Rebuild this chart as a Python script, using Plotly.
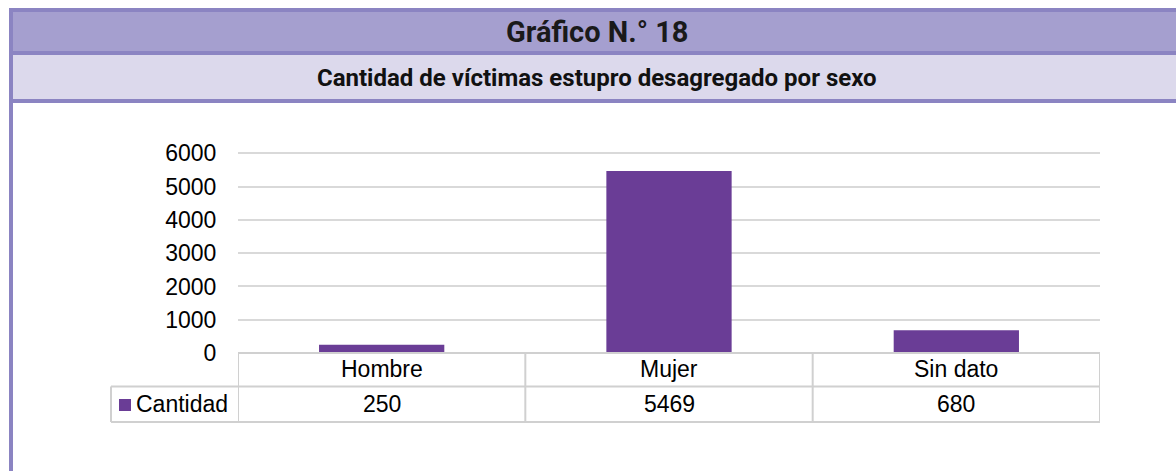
import plotly.graph_objects as go

W, H = 1176, 471

categories = ["Hombre", "Mujer", "Sin dato"]
cantidad = [250, 5469, 680]
series_name = "Cantidad"
y_ticks = [0, 1000, 2000, 3000, 4000, 5000, 6000]
title_text = "Gráfico N.° 18"
subtitle_text = "Cantidad de víctimas estupro desagregado por sexo"

BAR = "#6A3D96"
BORDER = "#8B84C2"
BAND1 = "#A59FCF"
BAND2 = "#DCD9EC"
GRID = "#D9D9D9"
CELL = "#D0D0D0"
FONT = "Liberation Sans, Arial, sans-serif"
FS = 23


def px(x):
    return x / W


def py(y):
    return 1 - y / H


fig = go.Figure()
fig.add_trace(go.Bar(x=categories, y=cantidad, marker=dict(color=BAR, line=dict(width=0)),
                     name=series_name, showlegend=False, hoverinfo="x+y"))

shapes = []
# header bands
shapes.append(dict(type="rect", xref="paper", yref="paper", x0=px(9), x1=px(1176), y0=py(8), y1=py(103),
                   fillcolor=BORDER, line=dict(width=0), layer="below"))
shapes.append(dict(type="rect", xref="paper", yref="paper", x0=px(13), x1=px(1176), y0=py(12), y1=py(51),
                   fillcolor=BAND1, line=dict(width=0), layer="below"))
shapes.append(dict(type="rect", xref="paper", yref="paper", x0=px(13), x1=px(1176), y0=py(55), y1=py(99),
                   fillcolor=BAND2, line=dict(width=0), layer="below"))
# left border down
shapes.append(dict(type="rect", xref="paper", yref="paper", x0=px(9), x1=px(13), y0=py(103), y1=0,
                   fillcolor=BORDER, line=dict(width=0), layer="below"))

# table lines
y_top, y_mid, y_bot = py(353), py(386.5), py(422)
n = len(categories)
shapes.append(dict(type="line", xref="x", yref="paper", x0=-0.5, x1=n - 0.5, y0=y_top, y1=y_top,
                   line=dict(color=CELL, width=2)))
for yy in (y_mid, y_bot):
    shapes.append(dict(type="line", xref="paper", yref="paper", x0=px(111), x1=px(1100), y0=yy, y1=yy,
                       line=dict(color=CELL, width=2)))
for i in range(n + 1):
    shapes.append(dict(type="line", xref="x", yref="paper", x0=i - 0.5, x1=i - 0.5, y0=y_top, y1=y_bot,
                       line=dict(color=CELL, width=2)))
shapes.append(dict(type="line", xref="paper", yref="paper", x0=px(111), x1=px(111), y0=y_mid, y1=y_bot,
                   line=dict(color=CELL, width=2)))
# legend key
shapes.append(dict(type="rect", xref="paper", yref="paper", x0=px(119), x1=px(131), y0=py(399), y1=py(411),
                   fillcolor=BAR, line=dict(width=0)))

annotations = []
annotations.append(dict(text=title_text, xref="paper", yref="paper", x=px(596.5), y=py(32), showarrow=False,
                        font=dict(family="Roboto", size=29, color="#1a1a1a", weight=700),
                        xanchor="center", yanchor="middle"))
annotations.append(dict(text=subtitle_text, xref="paper", yref="paper", x=px(596.5), y=py(78), showarrow=False,
                        font=dict(family="Roboto", size=24, color="#111111", weight=700),
                        xanchor="center", yanchor="middle"))
for c, v in zip(categories, cantidad):
    annotations.append(dict(text=c, xref="x", yref="paper", x=c, y=py(369), showarrow=False,
                            font=dict(family=FONT, size=FS, color="#000"), xanchor="center", yanchor="middle"))
    annotations.append(dict(text=str(v), xref="x", yref="paper", x=c, y=py(404), showarrow=False,
                            font=dict(family=FONT, size=FS, color="#000"), xanchor="center", yanchor="middle"))
annotations.append(dict(text=series_name, xref="paper", yref="paper", x=px(134), y=py(404), showarrow=False,
                        font=dict(family=FONT, size=FS, color="#000"), xanchor="left", yanchor="middle"))

Y_MAX = 6150
y_px_per_unit = (353 - 153.3) / 6000
fig.update_layout(
    width=W, height=H,
    margin=dict(l=0, r=0, t=0, b=0, pad=0),
    paper_bgcolor="white", plot_bgcolor="white",
    bargap=0.564,
    shapes=shapes, annotations=annotations,
    xaxis=dict(domain=[px(238), px(1100)], showticklabels=False, ticks="", showgrid=False,
               zeroline=False, showline=False, range=[-0.5, n - 0.5], fixedrange=True, automargin=False),
    yaxis=dict(domain=[py(353), py(353 - Y_MAX * y_px_per_unit)], range=[0, Y_MAX], tickvals=y_ticks,
               ticktext=[str(t) for t in y_ticks], showgrid=True, gridcolor=GRID, gridwidth=1.5,
               zeroline=False, showline=False, ticks="outside", ticklen=16, tickcolor="rgba(0,0,0,0)",
               tickfont=dict(family=FONT, size=FS, color="#000"), fixedrange=True, automargin=False),
    showlegend=False,
)

fig.write_html("out.html", config={"displayModeBar": False},
               post_script="document.body.style.margin='0';document.body.style.overflow='hidden';")
